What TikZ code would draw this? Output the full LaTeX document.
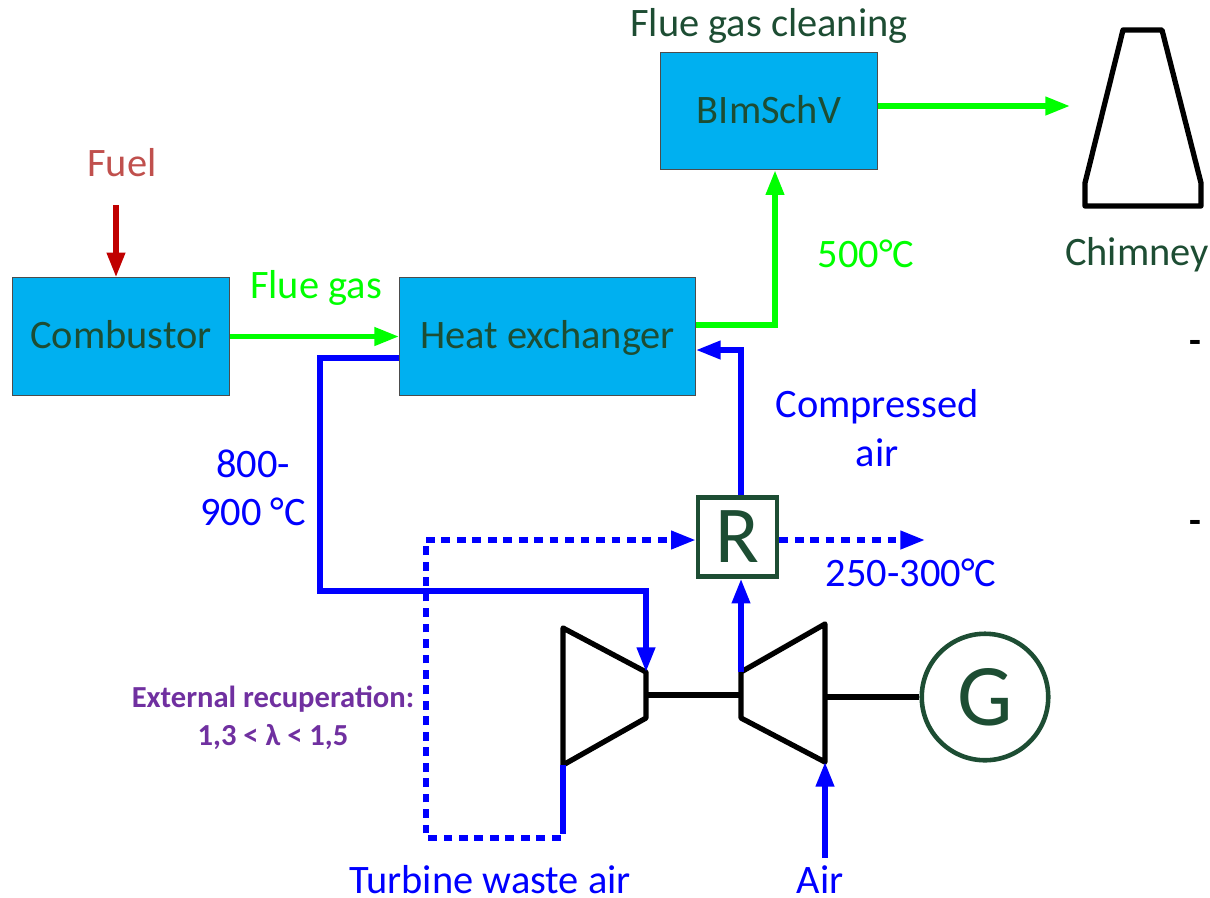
\documentclass[tikz,border=0pt]{standalone}
\usepackage{fontspec}
\setmainfont{Carlito}
\usetikzlibrary{arrows.meta,positioning,calc}
\definecolor{boxblue}{RGB}{0,176,240}
\definecolor{darkgreen}{RGB}{29,77,51}
\definecolor{fluegreen}{RGB}{0,255,0}
\definecolor{airblue}{RGB}{0,0,255}
\definecolor{fuelred}{RGB}{192,0,0}
\definecolor{fueltext}{RGB}{192,80,77}
\definecolor{recupurple}{RGB}{112,48,160}
\tikzset{
  plantbox/.style={draw=black!70,line width=.5pt,fill=boxblue,text=darkgreen,font=\fontsize{23}{26}\selectfont,minimum height=67pt,text height=18pt,text depth=4pt},
  lbl/.style={font=\fontsize{23}{27.5}\selectfont,align=center,inner sep=0pt},
  tip/.style={-{Triangle[length=14pt,width=10pt]}},
  flue/.style={tip,fluegreen,line width=3pt},
  air/.style={tip,airblue,line width=3pt},
  wasteair/.style={airblue,line width=3pt,dash pattern=on 5pt off 3.8pt},
  mach/.style={black,line width=3pt,line join=round},
  dashmark/.style={font=\fontsize{22}{24}\selectfont\bfseries,inner sep=0pt}
}
\begin{document}
\begin{tikzpicture}[x=.02cm,y=-.02cm]
\useasboundingbox (0,0) rectangle (1210,897);
% boxes
\node[plantbox,minimum width=123.5pt] (comb) at (121,336.5) {Combustor};
\node[plantbox,minimum width=168.5pt] (hx) at (547.5,336.5) {Heat exchanger};
\node[plantbox,minimum width=123.5pt] (bim) at (769,111) {BImSchV};
\node[draw=darkgreen,line width=2.6pt,text=darkgreen,minimum size=45pt,inner sep=0pt,font=\fontsize{46}{50}\selectfont] (rec) at (737.5,537) {R};
\node[circle,draw=darkgreen,line width=2.6pt,text=darkgreen,minimum size=72pt,inner sep=0pt,font=\fontsize{50}{54}\selectfont] (gen) at (985,697) {G};
% turbine, compressor, chimney
\coordinate (tin) at (646,672);
\coordinate (tout) at (563,765);
\coordinate (cin) at (825,762);
\coordinate (cout) at (741,672);
\draw[mach] (563,628)--(tin)--(646,718)--(tout)--cycle;
\draw[mach] (cout)--(825,624)--(cin)--(741,718)--cycle;
\draw[mach] (1085,206)--(1085,183)--(1123,30)--(1162,30)--(1201,183)--(1201,206)--cycle;
\coordinate (tsh) at (646,695);
\coordinate (csh) at (741,695);
\draw[mach] (tsh)--(csh);
\draw[mach] (825,697)--(gen.west);
% flows
\coordinate (fuelin) at (116,205);
\coordinate (stack) at (1070,106);
\coordinate (airin) at (825,858);
\coordinate (wastestop) at (563,825);
\coordinate (wasteend) at (925,540);
\draw[tip,fuelred,line width=3pt] (fuelin)--(comb.north -| fuelin);
\draw[flue] (comb.east)--(hx.west);
\draw[flue] (hx.east |- 0,325)-|(bim.south -| 775,0);
\draw[flue] (bim.east |- stack)--(stack);
\draw[air] (hx.west |- 0,358)-|(320,591)-|(tin);
\draw[air] (rec.north -| cout)|-(hx.east |- 0,350);
\draw[air] (cout)--(rec.south -| cout);
\draw[air] (airin)--(cin);
\draw[airblue,line width=3pt] (tout)--(wastestop);
\draw[wasteair] (wastestop)--(563,838)-|(426,540);
\draw[wasteair,-{Triangle[length=14pt,width=10pt]}] (426,540)--(rec.west |- 0,540);
\draw[wasteair,-{Triangle[length=14pt,width=10pt]}] (rec.east |- wasteend)--(wasteend);
% labels
\node[lbl,text=darkgreen] (clean) at (769,26) {Flue gas cleaning};
\node[lbl,text=darkgreen] (chim) at (1137,255) {Chimney};
\node[lbl,text=fueltext] (fuel) at (122,163) {Fuel};
\node[lbl,text=fluegreen] (fg) at (316,288) {Flue gas};
\node[lbl,text=fluegreen] (temp) at (866,254) {500°C};
\node[lbl,text=airblue] (comp) at (877,428) {Compressed\\air};
\node[lbl,text=airblue] (hot) at (253,488) {800-\\900 °C};
\node[lbl,text=airblue] (warm) at (911,573) {250-300°C};
\node[lbl,text=airblue] (waste) at (490,880) {Turbine waste air};
\node[lbl,text=airblue] (air) at (820,880) {Air};
\node[font=\fontsize{17.4}{21.5}\selectfont\bfseries,align=center,text=recupurple,inner sep=0pt] (recu) at (273,718) {External recuperation:\\1,3 < λ < 1,5};
\node[dashmark] (m1) at (1195,347) {-};
\node[dashmark] (m2) at (1195,527) {-};
\end{tikzpicture}
\end{document}
